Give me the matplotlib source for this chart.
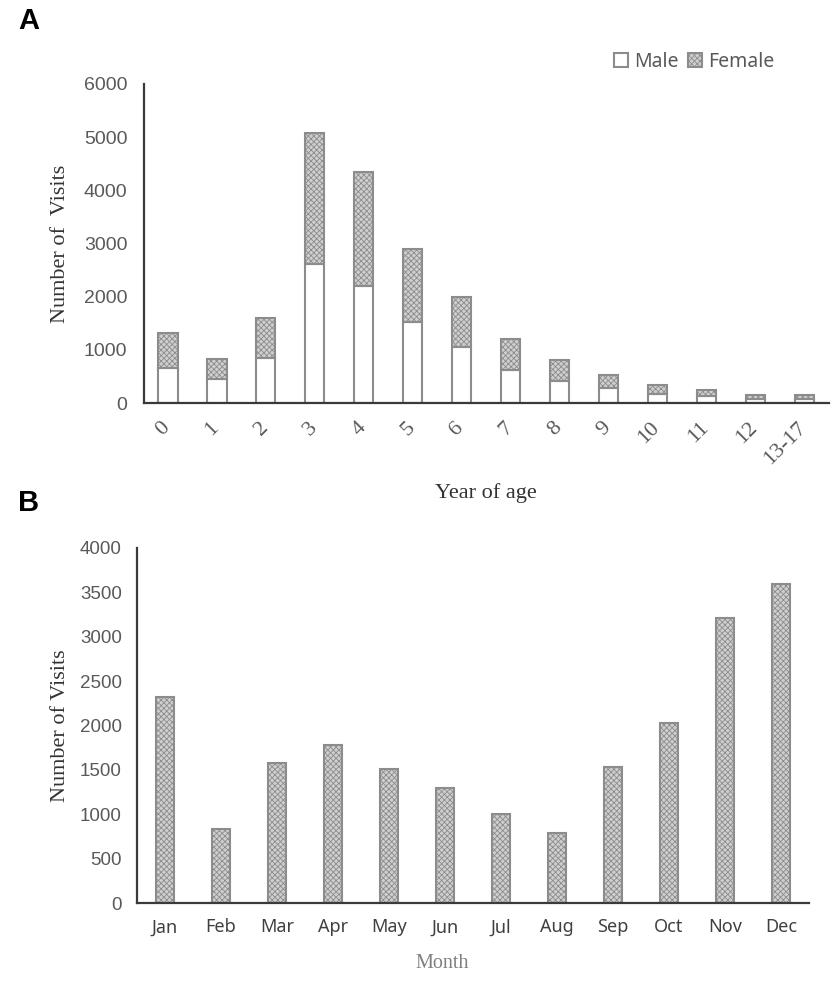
import matplotlib
matplotlib.use("Agg")
import matplotlib.pyplot as plt
import matplotlib.transforms as mtransforms
from matplotlib.patches import Patch
import numpy as np

# panel A: visits by year of age, stacked male / female
ages = ["0", "1", "2", "3", "4", "5", "6", "7", "8", "9", "10", "11", "12", "13-17"]
male = [650, 447, 838, 2617, 2208, 1523, 1057, 617, 415, 290, 177, 126, 83, 83]
total = [1310, 820, 1592, 5083, 4347, 2900, 1988, 1196, 818, 535, 340, 240, 158, 145]
female = [t - m for t, m in zip(total, male)]

# panel B: visits by month
months = ["Jan", "Feb", "Mar", "Apr", "May", "Jun",
          "Jul", "Aug", "Sep", "Oct", "Nov", "Dec"]
monthly = [2316, 829, 1575, 1782, 1511, 1292, 1002, 791, 1537, 2031, 3206, 3590]

plt.rcParams["hatch.linewidth"] = 0.6

W, H = 839, 982
fig = plt.figure(figsize=(W / 100, H / 100), dpi=100)

tick_grey = "#595959"
edge_grey = "#8c8c8c"
spine_col = "#3a3a3a"
fill_grey = "#cfcfcf"
serif = "Liberation Serif"


def style_axes(ax):
    for s in ("top", "right"):
        ax.spines[s].set_visible(False)
    for s in ("left", "bottom"):
        ax.spines[s].set_color(spine_col)
        ax.spines[s].set_linewidth(1.6)
    ax.tick_params(length=0)


# ---- A ----
axA = fig.add_axes([144 / W, 1 - 403 / H, (829 - 144) / W, (403 - 84) / H])
x = np.arange(len(ages))
axA.bar(x, male, width=0.39, color="white", edgecolor=edge_grey, linewidth=1.5)
axA.bar(x, female, bottom=male, width=0.39, color=fill_grey,
        edgecolor=edge_grey, linewidth=1.5, hatch="xxxxxx")
axA.set_xlim(-0.49, 13.5)
axA.set_ylim(0, 6000)
axA.set_yticks(np.arange(0, 6001, 1000))
style_axes(axA)
axA.tick_params(axis="y", pad=12, labelsize=14, labelcolor=tick_grey)
for t in axA.get_yticklabels():
    t.set_fontfamily("Liberation Sans")
axA.set_xticks(x)
axA.set_xticklabels(ages, rotation=45, ha="right", va="top",
                    fontsize=16, color="#5a5a5a", fontfamily=serif)
axA.tick_params(axis="x", pad=11)
shift = mtransforms.ScaledTranslation(6 / 100, 0, fig.dpi_scale_trans)
for t in axA.get_xticklabels():
    t.set_transform(t.get_transform() + shift)
axA.set_ylabel("Number of  Visits", fontsize=16, fontfamily=serif,
               color="#333333")
axA.yaxis.set_label_coords(-0.108, 0.5)
fig.text(486 / W, 1 - 493 / H, "Year of age", fontsize=16, fontfamily=serif,
         color="#333333", ha="center", va="center")

handles = [
    Patch(facecolor="white", edgecolor=edge_grey, linewidth=1.5, label="Male"),
    Patch(facecolor=fill_grey, edgecolor=edge_grey, linewidth=1.5,
          hatch="xxxxxx", label="Female"),
]
leg = fig.legend(handles=handles, loc="center",
                 bbox_to_anchor=(694 / W, 1 - 62 / H), ncol=2, frameon=False,
                 prop={"family": "Noto Sans", "size": 14},
                 handlelength=0.75, handleheight=0.75, handletextpad=0.3,
                 columnspacing=0.45, labelcolor=tick_grey)

fig.text(18 / W, 1 - 21 / H, "A", fontsize=21, fontweight="bold",
         fontfamily="Liberation Sans", va="center", ha="left")

# ---- B ----
axB = fig.add_axes([137 / W, 1 - 903 / H, (809 - 137) / W, (903 - 548) / H])
xm = np.arange(len(months))
axB.bar(xm, monthly, width=0.31, color=fill_grey, edgecolor=edge_grey,
        linewidth=1.5, hatch="xxxxxx")
axB.set_xlim(-0.5, 11.5)
axB.set_ylim(0, 4000)
axB.set_yticks(np.arange(0, 4001, 500))
style_axes(axB)
axB.tick_params(axis="y", pad=11, labelsize=13.5, labelcolor=tick_grey)
for t in axB.get_yticklabels():
    t.set_fontfamily("Liberation Sans")
axB.set_xticks(xm)
axB.set_xticklabels(months, fontsize=13, color="#404040",
                    fontfamily="Noto Sans")
axB.tick_params(axis="x", pad=11)
axB.set_ylabel("Number of Visits", fontsize=16, fontfamily=serif,
               color="#333333")
axB.yaxis.set_label_coords(-0.1, 0.5)
fig.text(442 / W, 1 - 963 / H, "Month", fontsize=14.5, fontfamily=serif,
         color="#808080", ha="center", va="center")

fig.text(18 / W, 1 - 503 / H, "B", fontsize=21, fontweight="bold",
         fontfamily="Liberation Sans", va="center", ha="left")

fig.savefig("out.png", dpi=100)
